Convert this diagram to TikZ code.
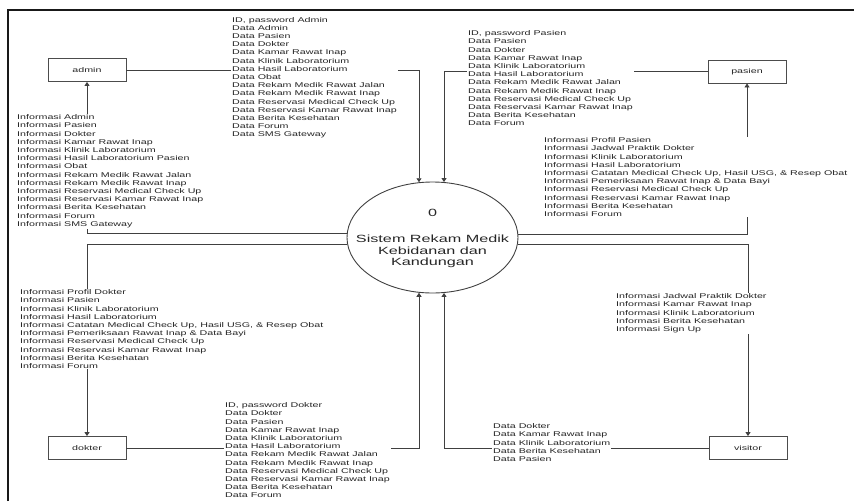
\documentclass[tikz,border=0pt]{standalone}
\usepackage{fontspec}
\usetikzlibrary{arrows.meta,shapes.geometric,calc}
% wide sans face used for every label of the context diagram
\newfontfamily\dfdfont[FakeStretch=1.55]{Liberation Sans}
\newcommand{\dfdsmall}{\dfdfont\fontsize{6.9}{8.2}\selectfont}
\newcommand{\dfdbig}{\dfdfont\fontsize{10.45}{11.5}\selectfont}
\begin{document}
\begin{tikzpicture}[x=1pt,y=-1pt,
  flow/.style={draw=black!75, line width=0.9pt, -{Triangle[width=5pt,length=4pt]}},
  entity/.style={draw=black!70, line width=0.9pt, minimum width=78pt, minimum height=23pt,
                 inner sep=0pt, font=\dfdsmall, text=black!85},
  process/.style={draw=black!75, line width=0.9pt, ellipse, minimum width=171pt,
                  minimum height=111pt, inner sep=0pt},
  flowlabel/.style={anchor=north west, align=left, fill=white, inner xsep=1pt,
                    inner ysep=1pt, font=\dfdsmall, text=black!85},
]
\useasboundingbox (0,0) rectangle (854,501);

% frame
\draw[line width=2.2pt, black!90, line join=miter] (8,501) -- (8,10) -- (854,10);

% external entities
\node[entity] (admin)   at (87,70)    {admin};
\node[entity] (pasien)  at (747,71.5) {pasien};
\node[entity] (dokter)  at (87,448)   {dokter};
\node[entity] (visitor) at (748,448)  {visitor};

% process
\node[process] (sys) at (432.5,237.5) {};
\node[font=\dfdbig, text=black!85] (sysnum) at (432.5,213) {0};
\node[font=\dfdbig, text=black!85, align=center] (systitle) at (432.5,251.5)
  {Sistem Rekam Medik\\Kebidanan dan\\Kandungan};

% connection points on the process
\coordinate (topA) at ($(sys.north)+(-13.5,0.7)$);
\coordinate (topB) at ($(sys.north)+(11.5,0.5)$);
\coordinate (botA) at ($(sys.south)+(-13.5,-0.7)$);
\coordinate (botB) at ($(sys.south)+(11.5,-0.5)$);
\coordinate (leftA)  at ($(sys.west)+(0.2,-4.5)$);
\coordinate (leftB)  at ($(sys.west)+(0.3,6.5)$);
\coordinate (rightA) at ($(sys.east)+(-0.2,-3.5)$);
\coordinate (rightB) at ($(sys.east)+(-0.3,6.5)$);

% data flows
\draw[flow] (admin.east) -| (topA);
\draw[flow] (pasien.west) -| (topB);
\draw[flow] (dokter.east) -| (botA);
\draw[flow] (visitor.west) -| (botB);
\draw[flow] (leftA) -| (admin.south);
\draw[flow] (leftB) -| (dokter.north);
\draw[flow] (rightA) -| (pasien.south);
\draw[flow] (rightB) -| (visitor.north);

% flow labels
\node[flowlabel] (admindata) at (231,15.9) {ID, password Admin\\Data Admin\\Data Pasien\\Data Dokter\\Data Kamar Rawat Inap\\Data Klinik Laboratorium\\Data Hasil Laboratorium\\Data Obat\\Data Rekam Medik Rawat Jalan\\Data Rekam Medik Rawat Inap\\Data Reservasi Medical Check Up\\Data Reservasi Kamar Rawat Inap\\Data Berita Kesehatan\\Data Forum\\Data SMS Gateway};

\node[flowlabel] (pasiendata) at (467,29.4) {ID, password Pasien\\Data Pasien\\Data Dokter\\Data Kamar Rawat Inap\\Data Klinik Laboratorium\\Data Hasil Laboratorium\\Data Rekam Medik Rawat Jalan\\Data Rekam Medik Rawat Inap\\Data Reservasi Medical Check Up\\Data Reservasi Kamar Rawat Inap\\Data Berita Kesehatan\\Data Forum};

\node[flowlabel] (admininfo) at (16,113.4) {Informasi Admin\\Informasi Pasien\\Informasi Dokter\\Informasi Kamar Rawat Inap\\Informasi Klinik Laboratorium\\Informasi Hasil Laboratorium Pasien\\Informasi Obat\\Informasi Rekam Medik Rawat Jalan\\Informasi Rekam Medik Rawat Inap\\Informasi Reservasi Medical Check Up\\Informasi Reservasi Kamar Rawat Inap\\Informasi Berita Kesehatan\\Informasi Forum\\Informasi SMS Gateway};

\node[flowlabel] (pasieninfo) at (543,136.4) {Informasi Profil Pasien\\Informasi Jadwal Praktik Dokter\\Informasi Klinik Laboratorium\\Informasi Hasil Laboratorium\\Informasi Catatan Medical Check Up, Hasil USG, \& Resep Obat\\Informasi Pemeriksaan Rawat Inap \& Data Bayi\\Informasi Reservasi Medical Check Up\\Informasi Reservasi Kamar Rawat Inap\\Informasi Berita Kesehatan\\Informasi Forum};

\node[flowlabel] (dokterinfo) at (19,288.4) {Informasi Profil Dokter\\Informasi Pasien\\Informasi Klinik Laboratorium\\Informasi Hasil Laboratorium\\Informasi Catatan Medical Check Up, Hasil USG, \& Resep Obat\\Informasi Pemeriksaan Rawat Inap \& Data Bayi\\Informasi Reservasi Medical Check Up\\Informasi Reservasi Kamar Rawat Inap\\Informasi Berita Kesehatan\\Informasi Forum};

\node[flowlabel] (visitorinfo) at (615,292.4) {Informasi Jadwal Praktik Dokter\\Informasi Kamar Rawat Inap\\Informasi Klinik Laboratorium\\Informasi Berita Kesehatan\\Informasi Sign Up};

\node[flowlabel] (dokterdata) at (224,401.4) {ID, password Dokter\\Data Dokter\\Data Pasien\\Data Kamar Rawat Inap\\Data Klinik Laboratorium\\Data Hasil Laboratorium\\Data Rekam Medik Rawat Jalan\\Data Rekam Medik Rawat Inap\\Data Reservasi Medical Check Up\\Data Reservasi Kamar Rawat Inap\\Data Berita Kesehatan\\Data Forum};

\node[flowlabel] (visitordata) at (492,422.4) {Data Dokter\\Data Kamar Rawat Inap\\Data Klinik Laboratorium\\Data Berita Kesehatan\\Data Pasien};
\end{tikzpicture}
\end{document}
